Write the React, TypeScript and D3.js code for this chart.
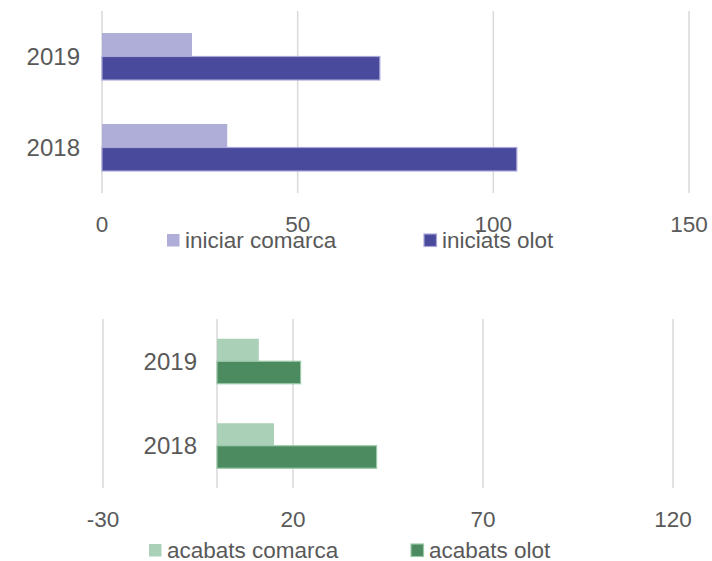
import React from "react";
import * as d3 from "d3";

const years = ["2019", "2018"];
const seriesTop = ["iniciar comarca", "iniciats olot"];
const iniciarComarca = [23, 32];
const iniciatsOlot = [71, 106];
const topTicks = [0, 50, 100, 150];

const seriesBottom = ["acabats comarca", "acabats olot"];
const acabatsComarca = [11, 15];
const acabatsOlot = [22, 42];
const bottomTicks = [-30, 20, 70, 120];

const FONT = "'Liberation Sans', Arial, sans-serif";
const TEXT = "#595959";
const GRID = "#d9d9d9";

type PanelProps = {
  series: string[];
  values: number[][];
  fills: string[];
  strokes: (string | null)[];
  domain: [number, number];
  ticks: number[];
  xRange: [number, number];
  yRange: [number, number];
  outerPad: number;
  labelX: number;
  tickBaseline: number;
  legendX: number[];
  legendY: number;
};

function Panel(p: PanelProps) {
  const x = d3.scaleLinear().domain(p.domain).range(p.xRange);
  const y = d3.scaleBand<string>().domain(years).range(p.yRange).padding(0);
  const sub = d3
    .scaleBand<string>()
    .domain(p.series)
    .range([0, y.bandwidth()])
    .paddingInner(0)
    .paddingOuter(p.outerPad);
  const gridVals = Array.from(new Set([...p.ticks, 0]));
  return (
    <g>
      {gridVals.map((t) => (
        <line
          key={"g" + t}
          x1={x(t)}
          x2={x(t)}
          y1={p.yRange[0]}
          y2={p.yRange[1]}
          stroke={GRID}
          strokeWidth={1.5}
        />
      ))}
      {years.map((yr, i) => (
        <g key={yr}>
          {p.series.map((s, j) => {
            const v = p.values[j][i];
            const y0 = (y(yr) as number) + (sub(s) as number);
            return (
              <rect
                key={s}
                x={x(0)}
                y={y0}
                width={x(v) - x(0)}
                height={sub.bandwidth()}
                fill={p.fills[j]}
                stroke={p.strokes[j] || "none"}
                strokeWidth={p.strokes[j] ? 1.2 : 0}
              />
            );
          })}
          <text
            x={p.labelX}
            y={(y(yr) as number) + y.bandwidth() / 2 + 8.5}
            textAnchor="end"
            fontFamily={FONT}
            fontSize={24}
            fill={TEXT}
          >
            {yr}
          </text>
        </g>
      ))}
      {p.ticks.map((t) => (
        <text
          key={"t" + t}
          x={x(t)}
          y={p.tickBaseline}
          textAnchor="middle"
          fontFamily={FONT}
          fontSize={22.5}
          fill={TEXT}
        >
          {t}
        </text>
      ))}
      {p.series.map((s, j) => (
        <g key={"l" + s}>
          <rect
            x={p.legendX[j]}
            y={p.legendY - 13}
            width={12.5}
            height={12.5}
            fill={p.fills[j]}
            stroke={p.strokes[j] || "none"}
            strokeWidth={p.strokes[j] ? 1.2 : 0}
          />
          <text
            x={p.legendX[j] + 18}
            y={p.legendY + 1}
            fontFamily={FONT}
            fontSize={22.5}
            fill={TEXT}
          >
            {s}
          </text>
        </g>
      ))}
    </g>
  );
}

export default function App() {
  return (
    <svg
      width={712}
      height={561}
      style={{ position: "absolute", left: 0, top: 0, background: "#fff" }}
    >
      <rect width={712} height={561} fill="#fff" />
      <Panel
        series={seriesTop}
        values={[iniciarComarca, iniciatsOlot]}
        fills={["#afaed8", "#4a4a9c"]}
        strokes={[null, "#a9a7d9"]}
        domain={[0, 150]}
        ticks={topTicks}
        xRange={[102, 689]}
        yRange={[11, 193]}
        outerPad={0.936}
        labelX={80}
        tickBaseline={232}
        legendX={[167, 424]}
        legendY={247}
      />
      <Panel
        series={seriesBottom}
        values={[acabatsComarca, acabatsOlot]}
        fills={["#aad0b7", "#4b8b5f"]}
        strokes={[null, "#9cc8aa"]}
        domain={[-30, 120]}
        ticks={bottomTicks}
        xRange={[103, 673]}
        yRange={[319, 488]}
        outerPad={0.878}
        labelX={197}
        tickBaseline={527}
        legendX={[149, 411]}
        legendY={557}
      />
    </svg>
  );
}
